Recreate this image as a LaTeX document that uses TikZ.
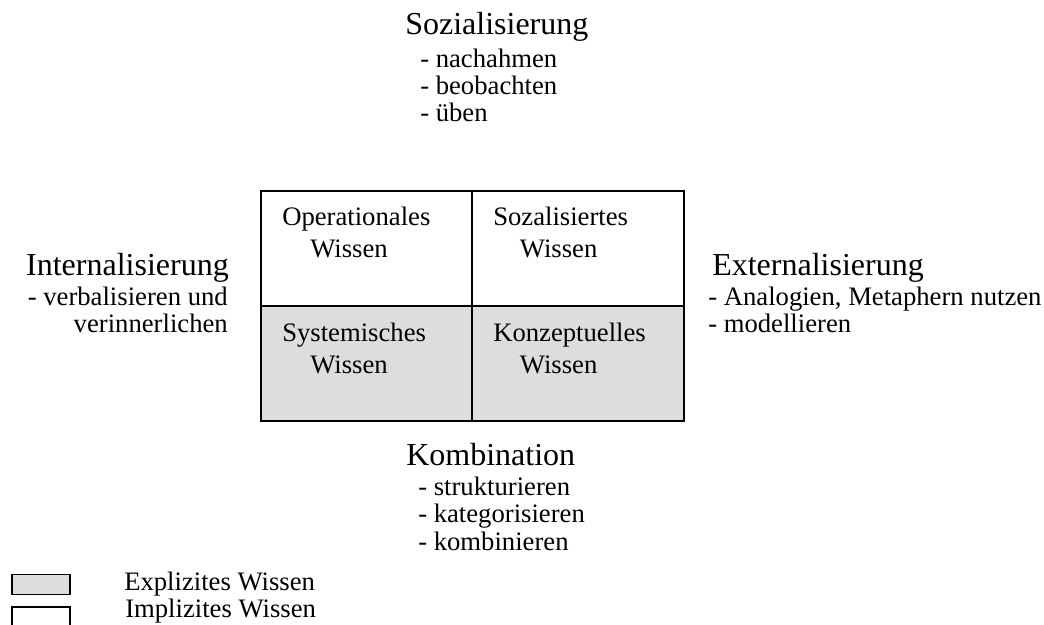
\documentclass[tikz,border=0pt]{standalone}
\usepackage{fontspec}
\setmainfont{Liberation Serif}
\usetikzlibrary{positioning}
\definecolor{wissengrau}{HTML}{DDDDDD}
\tikzset{
  titel/.style={inner sep=0pt, anchor=base west, font=\fontsize{24}{24}\selectfont},
  punkte/.style={inner sep=0pt, anchor=base west, align=left, font=\fontsize{20}{20.6}\selectfont},
  zelle/.style={inner sep=0pt, anchor=base west, align=left, font=\fontsize{20}{24}\selectfont},
  legbox/.style={draw, line width=1.2pt, minimum width=43.7pt, minimum height=15pt, inner sep=0pt}
}

\begin{document}
\begin{tikzpicture}[x=0.75pt,y=-0.75pt]
\useasboundingbox (0,0) rectangle (1044,624);
\fill[wissengrau] (261,305.5) rectangle (684,421);
\draw[line width=1.5pt] (261,191) rectangle (684,421) (472,191) -- (472,421) (261,305.5) -- (684,305.5);
\node[zelle] (opw) at (282,257) {Operationales\\\hspace*{21pt}Wissen};
\node[zelle] (soz) at (493,257) {Sozalisiertes\\\hspace*{20pt}Wissen};
\node[zelle] (sys) at (282,373) {Systemisches\\\hspace*{21pt}Wissen};
\node[zelle] (konz) at (493,373) {Konzeptuelles\\\hspace*{20pt}Wissen};
\node[titel] (sozt) at (405,35) {Sozialisierung};
\node[punkte] (sozp) at (420,122) {- nachahmen\\- beobachten\\- üben};
\node[titel] (komt) at (406,465) {Kombination};
\node[punkte] (komp) at (418,550) {- strukturieren\\- kategorisieren\\- kombinieren};
\node[titel] (extt) at (712,275) {Externalisierung};
\node[punkte] (extp) at (708,332.5) {- Analogien, Metaphern nutzen\\- modellieren};
\node[titel, anchor=base east] (intt) at (229,275) {Internalisierung};
\node[punkte, anchor=base east, align=right] (intp) at (228,332.5) {- verbalisieren und\\verinnerlichen};
\node[legbox, fill=wissengrau] (expb) at (40.9,584.3) {};
\node[legbox] (impb) at (40.9,616.7) {};
\node[punkte] (expt) at (124,590) {Explizites Wissen};
\node[punkte] (impt) at (125,617) {Implizites Wissen};
\end{tikzpicture}
\end{document}
